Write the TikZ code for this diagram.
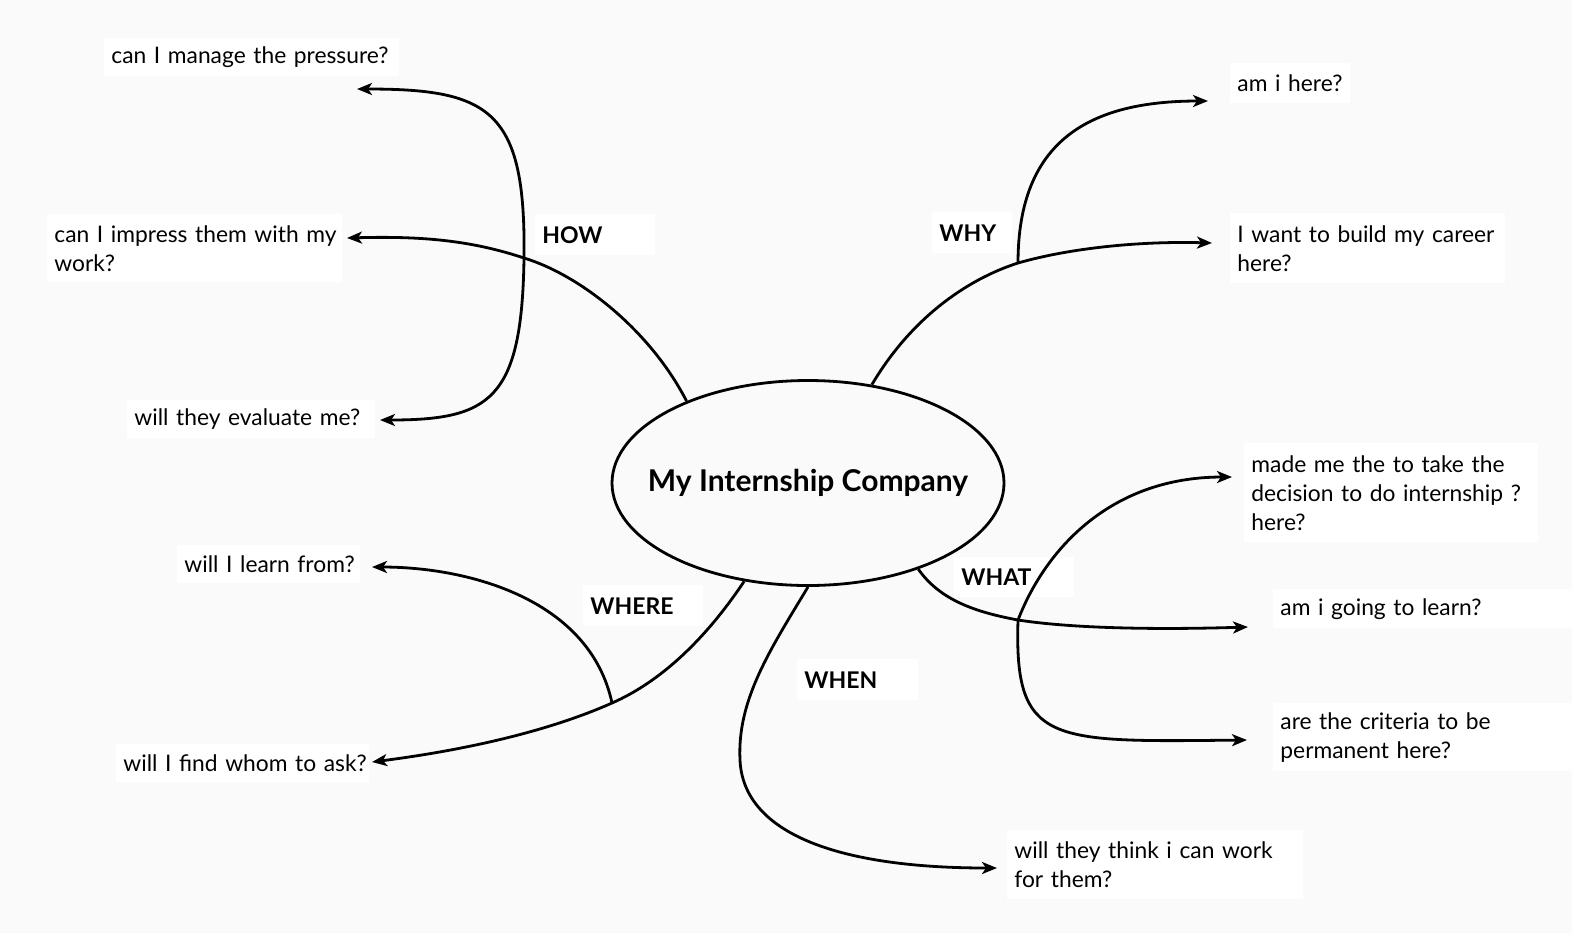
\documentclass[tikz,border=0pt]{standalone}
\usepackage{fontspec}
\setmainfont{Lato}
\usetikzlibrary{arrows.meta,shapes.geometric}
\definecolor{bgcol}{RGB}{250,250,250}
\begin{document}
\begin{tikzpicture}[x=0.5pt,y=-0.5pt,
  qbox/.style={fill=white, anchor=north west, inner xsep=3.5pt, inner ysep=0pt, align=left,
    font=\fontsize{11.4}{14.5}\selectfont},
  lbl/.style={fill=white, anchor=north west, inner xsep=3.5pt, inner ysep=0pt, align=left,
    font=\fontsize{11.5}{14}\selectfont\bfseries},
  conn/.style={line width=1.4pt, black},
  arr/.style={conn, -{Stealth[length=7.5pt,width=6pt,inset=2pt]}}]
\useasboundingbox (0,0) rectangle (1572,933);
\fill[bgcol] (0,0) rectangle (1572,933);

% question boxes
\node[qbox, text width=140.5pt, minimum height=19pt] (q1) at (104,38) {\mbox{can I manage the pressure?}};
\node[qbox, text width=140.5pt, minimum height=34pt] (q2) at (47,214) {\mbox{can I impress them with my}\\work?};
\node[qbox, text width=117pt, minimum height=19pt] (q3) at (127,400) {\mbox{will they evaluate me?}};
\node[qbox, text width=84.5pt, minimum height=19pt] (q4) at (177,545) {\mbox{will I learn from?}};
\node[qbox, text width=119.5pt, minimum height=19pt] (q5) at (116,744) {\mbox{will I find whom to ask?}};
\node[qbox, text width=141pt, minimum height=34.5pt] (q6) at (1007,830) {\mbox{will they think i can work}\\for them?};
\node[qbox, text width=143.5pt, minimum height=34pt] (q7) at (1273,703) {\mbox{are the criteria to be}\\permanent here?};
\node[qbox, text width=143.5pt, minimum height=19.5pt] (q8) at (1273,589) {\mbox{am i going to learn?}};
\node[qbox, text width=140pt, minimum height=49.5pt] (q9) at (1244,443) {\mbox{made me the to take the}\\\mbox{decision to do internship ?}\\here?};
\node[qbox, text width=130.5pt, minimum height=35pt] (q10) at (1230,213) {\mbox{I want to build my career}\\here?};
\node[qbox, text width=53pt, minimum height=20pt] (q11) at (1230,63) {\mbox{am i here?}};

% branch labels
\node[lbl, text width=53pt, minimum height=20.5pt] (how) at (535,214) {HOW};
\node[lbl, text width=33pt, minimum height=20.5pt] (why) at (932,212) {WHY};
\node[lbl, text width=53pt, minimum height=20pt] (what) at (954,557) {WHAT};
\node[lbl, text width=53pt, minimum height=20.5pt] (where) at (583,585) {WHERE};
\node[lbl, text width=53.5pt, minimum height=20.5pt] (when) at (797,659) {WHEN};

% centre
\node[ellipse, draw, line width=1.4pt, fill=bgcol, minimum width=196pt, minimum height=102.5pt, inner sep=0pt,
  font=\fontsize{15}{17}\selectfont\bfseries] (ell) at (808,483) {\makebox[0pt][c]{My Internship Company}};

% junctions and arrow tips
\coordinate (jHow) at (524,258);
\coordinate (jWhy) at (1018,263);
\coordinate (jWhat) at (1018,620);
\coordinate (jWhere) at (612,703);
\coordinate (jWhen) at (740,760);
\coordinate (t1) at (357,89);
\coordinate (t2) at (347,238);
\coordinate (t3) at (380,420);
\coordinate (t4) at (372,567);
\coordinate (t5) at (372,762);
\coordinate (t6) at (997,868);
\coordinate (t7) at (1247,740);
\coordinate (t8) at (1248,627);
\coordinate (t9) at (1232,477);
\coordinate (t10) at (1212,243);
\coordinate (t11) at (1208,101);

% HOW
\draw[arr] (ell.146.5) .. controls (650,330) and (580,275) .. (jHow) .. controls (470,240) and (420,236) .. (t2);
\draw[arr] (jHow) .. controls (526,110) and (490,89) .. (t1);
\draw[arr] (jHow) .. controls (522,400) and (490,420) .. (t3);
% WHY
\draw[arr] (ell.57.3) .. controls (910,320) and (965,280) .. (jWhy) .. controls (1070,248) and (1140,241) .. (t10);
\draw[arr] (jWhy) .. controls (1018,140) and (1090,101) .. (t11);
% WHAT
\draw[arr] (ell.-38) .. controls (940,600) and (975,612) .. (jWhat) .. controls (1070,628) and (1150,630) .. (t8);
\draw[arr] (jWhat) .. controls (1045,550) and (1110,477) .. (t9);
\draw[arr] (jWhat) .. controls (1014,745) and (1050,742) .. (t7);
% WHERE
\draw[arr] (ell.-123) .. controls (705,640) and (660,682) .. (jWhere) .. controls (540,735) and (450,752) .. (t5);
\draw[arr] (jWhere) .. controls (590,600) and (470,567) .. (t4);
% WHEN
\draw[arr] (ell.-90) .. controls (770,650) and (737,700) .. (jWhen) .. controls (743,830) and (830,868) .. (t6);
\end{tikzpicture}
\end{document}
